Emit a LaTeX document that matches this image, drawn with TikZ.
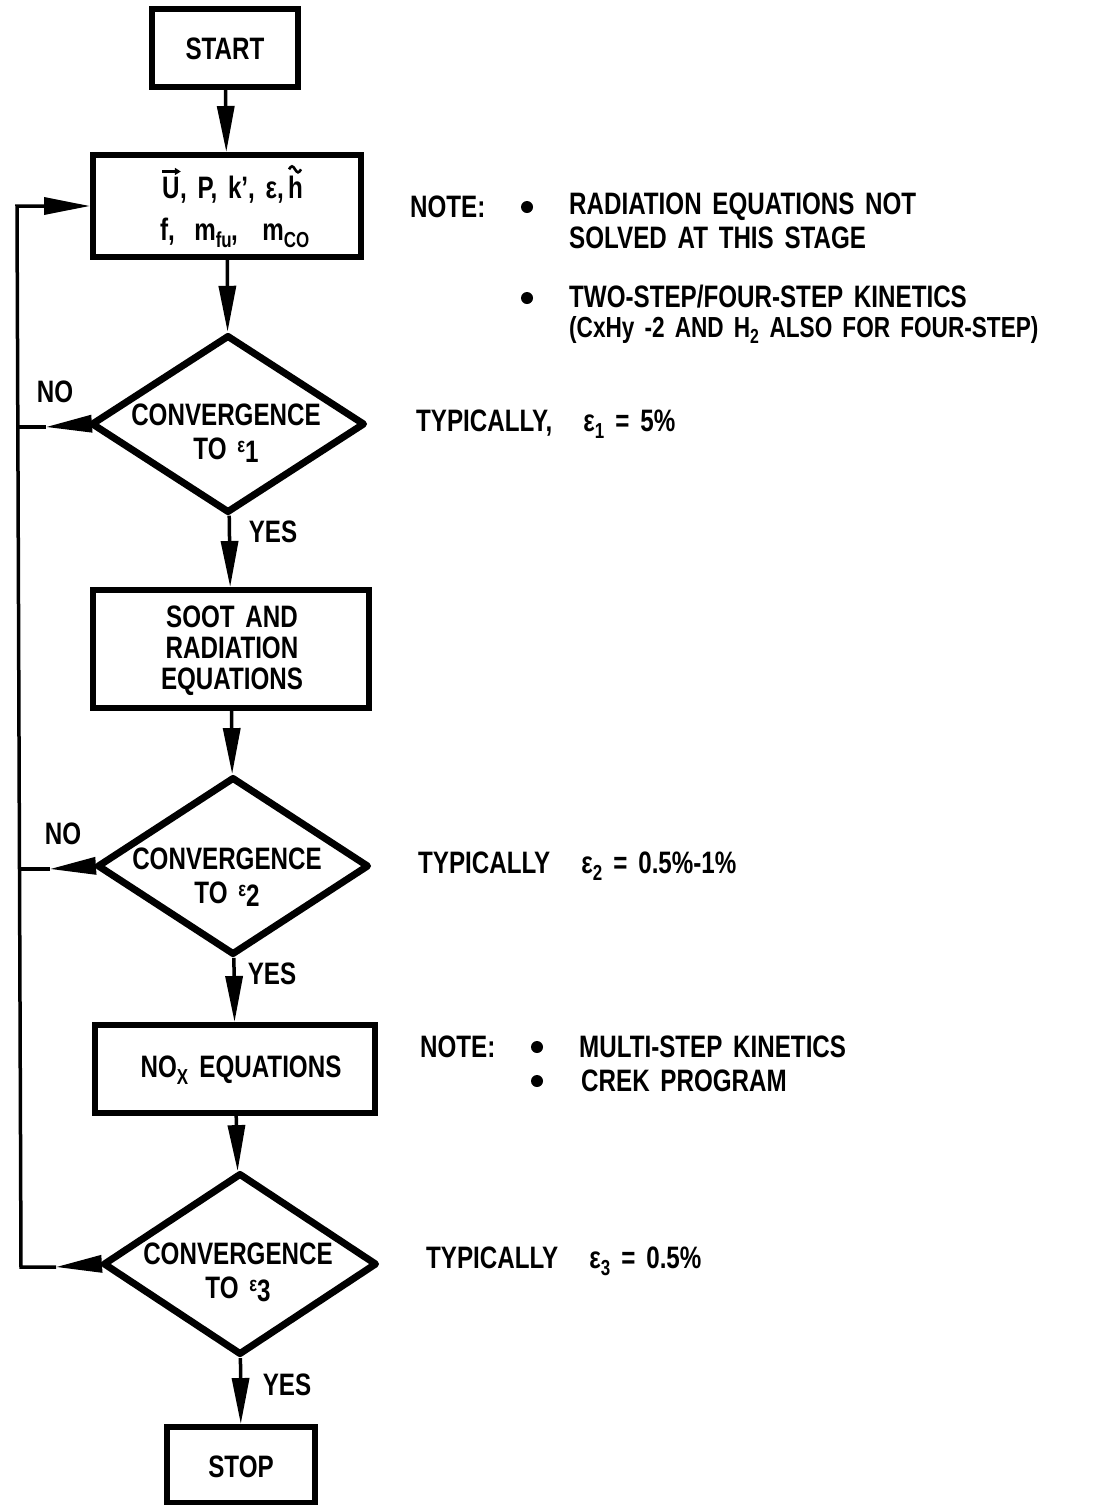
\documentclass[tikz,border=0pt]{standalone}
\usepackage{fontspec}
\setmainfont{Liberation Sans}[FakeStretch=0.78, WordSpace=1.6]
\usetikzlibrary{shapes.geometric,arrows.meta}
\tikzset{
  box/.style={draw, line width=6pt, rectangle, inner sep=0pt, align=center},
  dia/.style={draw, line width=7pt, diamond, inner sep=0pt, line join=round},
  txt/.style={inner sep=0pt, align=center, font=\bfseries\fontsize{31}{32}\selectfont},
  note/.style={txt, anchor=west, align=left},
  dot/.style={circle, fill, inner sep=0pt, minimum size=12pt},
  conn/.style={line width=3.5pt, -{Triangle[length=46pt,width=17pt]}},
  plain/.style={line width=3.5pt},
  accent/.style={line width=2.6pt},
}
\newcommand\myeps[1]{ε\textsubscript{#1}}
\newcommand\dieps[1]{\raisebox{7pt}{\fontsize{21}{21}\selectfont ε}\raisebox{-3pt}{#1}}
\begin{document}
\begin{tikzpicture}[x=1pt,y=-1pt]
\useasboundingbox (0,0) rectangle (1097,1505);
% boxes
\node[box, minimum width=146pt, minimum height=78pt] (start) at (225,48) {};
\node[txt] (startT) at (225,49) {START};
\node[box, minimum width=268pt, minimum height=102pt] (vars) at (227,206) {};
\node[txt, anchor=base west] (vU) at (162,198) {U};
\node[txt, anchor=base west] (vmid) at (vU.base east) {, P, k\textquoteright, ε,\kern4pt};
\node[txt, anchor=base west] (vh) at (vmid.base east) {h};
\draw[accent, -{Triangle[length=6pt,width=7pt]}] ([yshift=5pt]vU.north west) -- ([yshift=5pt,xshift=1pt]vU.north east);
\draw[accent] ([xshift=1pt,yshift=6pt]vh.north west) sin ++(3,-3) cos ++(3,3) sin ++(3,3) cos ++(3,-3);
\node[txt] (varsT2) at (235,233) {f,\; m\textsubscript{fu}\kern-1pt,\;\, m\textsubscript{CO}};
\node[dia, minimum width=274pt, minimum height=178pt] (d1) at (228,424) {};
\node[txt] (d1T) at (226,433) {CONVERGENCE\\[2pt]TO \dieps{1}};
\node[box, minimum width=276pt, minimum height=118pt] (soot) at (231,649) {};
\node[txt, font=\bfseries\fontsize{31}{31}\selectfont] (sootT) at (232,651) {SOOT AND\\RADIATION\\EQUATIONS};
\node[dia, minimum width=272pt, minimum height=178pt] (d2) at (233,866) {};
\node[txt] (d2T) at (227,877) {CONVERGENCE\\[2pt]TO \dieps{2}};
\node[box, minimum width=280pt, minimum height=88pt] (nox) at (235,1069) {};
\node[txt] (noxT) at (241,1070) {NO\textsubscript{X} EQUATIONS};
\node[dia, minimum width=274pt, minimum height=182pt] (d3) at (240,1264) {};
\node[txt] (d3T) at (238,1272) {CONVERGENCE\\[2pt]TO \dieps{3}};
\node[box, minimum width=148pt, minimum height=76pt] (stop) at (241,1465) {};
\node[txt] (stopT) at (241,1467) {STOP};
% main flow
\draw[conn] (start) -- (vars);
\draw[conn] (vars) -- (d1);
\draw[conn] (d1) -- (soot);
\draw[conn] (soot) -- (d2);
\draw[conn] (d2) -- (nox);
\draw[conn] (nox) -- (d3);
\draw[conn] (d3) -- (stop);
% feedback
\coordinate (L0) at (17,206);
\coordinate (L1) at (17,427);
\coordinate (L2) at (19,869);
\coordinate (L3) at (21,1267);
\coordinate (A0) at (60,206);
\coordinate (A1) at (46,427);
\coordinate (A2) at (50,869);
\coordinate (A3) at (56,1267);
\draw[conn] (d1.west) -- (A1);
\draw[plain] (A1) -- (L1);
\draw[conn] (d2.west) -- (A2);
\draw[plain] (A2) -- (L2);
\draw[conn] (d3.west) -- (A3);
\draw[plain, line join=miter] (A3) -- (L3) -- (L0) -- (A0);
\draw[conn] (A0) -- (vars.west);
% labels
\node[txt] (no1) at (55,392) {NO};
\node[txt] (no2) at (63,834) {NO};
\node[txt] (yes1) at (273,532) {YES};
\node[txt] (yes2) at (272,974) {YES};
\node[txt] (yes3) at (287,1385) {YES};
% notes
\node[note] (n1) at (410,207) {NOTE:};
\node[dot] (b1) at (527,207) {};
\node[note] (n1a) at (569,207) {RADIATION EQUATIONS NOT};
\node[note] (n1b) at (569,238) {SOLVED AT THIS STAGE};
\node[dot] (b2) at (527,298) {};
\node[note] (n2a) at (569,297) {TWO-STEP/FOUR-STEP KINETICS};
\node[note, font=\bfseries\fontsize{29}{30}\selectfont] (n2b) at (569,330) {(CxHy -2 AND H\textsubscript{2} ALSO FOR FOUR-STEP)};
\node[note] (t1) at (416,424) {TYPICALLY,\quad \myeps{1} = 5\%};
\node[note] (t2) at (418,866) {TYPICALLY\quad \myeps{2} = 0.5\%-1\%};
\node[note] (n3) at (420,1047) {NOTE:};
\node[dot] (b3) at (537,1047) {};
\node[note] (n3a) at (579,1047) {MULTI-STEP KINETICS};
\node[dot] (b4) at (537,1081) {};
\node[note] (n3b) at (581,1081) {CREK PROGRAM};
\node[note] (t3) at (426,1261) {TYPICALLY\quad \myeps{3} = 0.5\%};
\end{tikzpicture}
\end{document}
